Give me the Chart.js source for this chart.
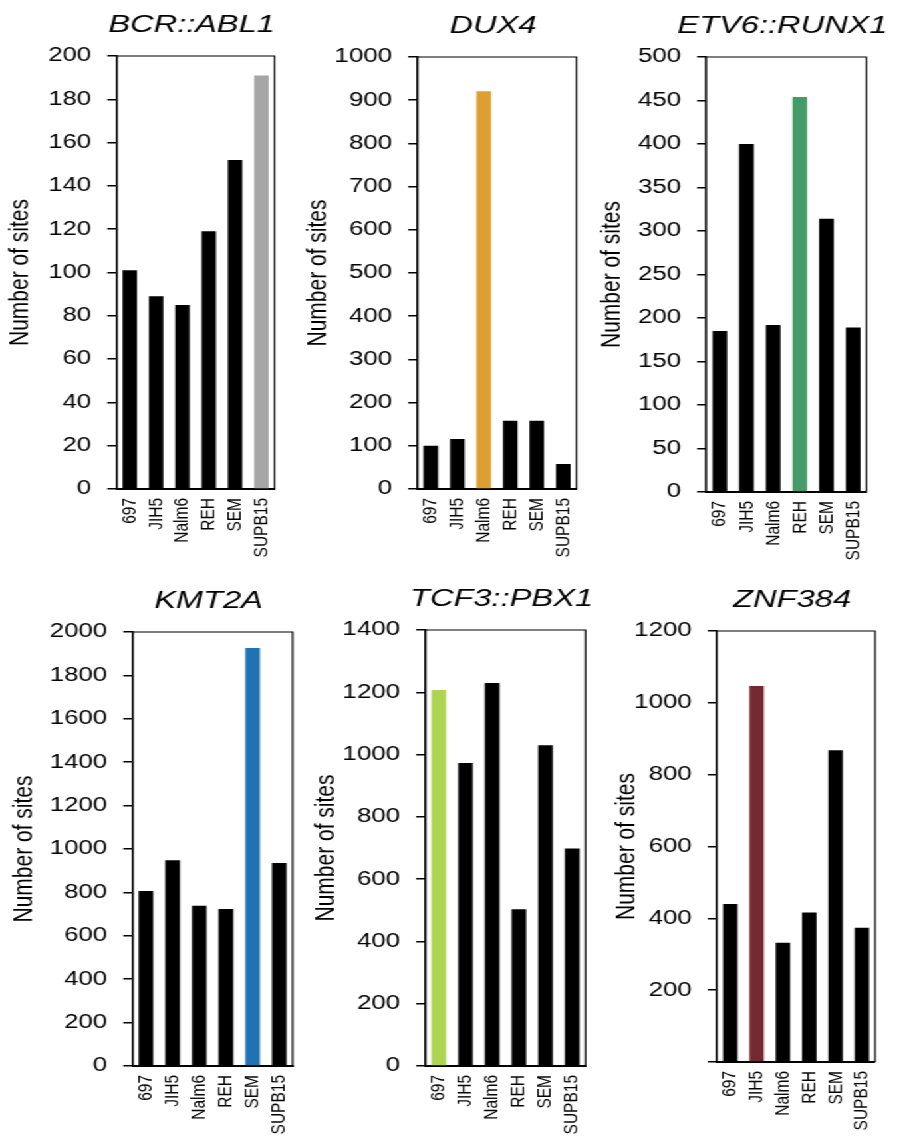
<!DOCTYPE html>
<html>
<head>
<meta charset="utf-8">
<script src="https://cdn.jsdelivr.net/npm/chart.js@4.4.0/dist/chart.umd.min.js"></script>
<style>
  html, body { margin: 0; padding: 0; background: #fff; overflow: hidden; }
  /* the original figure is stretched sideways, so the whole stage is too */
  #stage { position: relative; height: 1136px; transform-origin: 0 0; }
  #stage canvas { position: absolute; }
</style>
</head>
<body>
<div id="stage"></div>
<script>
const cellLines = ['697', 'JIH5', 'Nalm6', 'REH', 'SEM', 'SUPB15'];
const panelTitles = ['BCR::ABL1', 'DUX4', 'ETV6::RUNX1', 'KMT2A', 'TCF3::PBX1', 'ZNF384'];

const bcrAbl1 = [101, 89, 85, 119, 152, 191];
const dux4 = [100, 116, 921, 158, 158, 58];
const etv6Runx1 = [185, 400, 192, 454, 314, 189];
const kmt2a = [806, 948, 738, 723, 1926, 935];
const tcf3Pbx1 = [1207, 973, 1230, 503, 1030, 698];
const znf384 = [440, 1047, 332, 416, 868, 374];
const panelValues = [bcrAbl1, dux4, etv6Runx1, kmt2a, tcf3Pbx1, znf384];

const highlightIndex = [5, 2, 3, 4, 0, 1];
const highlightColors = ['#a6a6a6', '#dd9f34', '#449b69', '#1f72b3', '#afd453', '#732b31'];

const yMax = [200, 1000, 500, 2000, 1400, 1200];
const yStep = [20, 100, 50, 200, 200, 200];
const showZeroLabel = [true, true, true, true, true, false];

// layout, in pixels of the final picture
const S = 1.33;
const frames = [
  { titleX: 21, left: 117, right: 275, top: 56, bottom: 489 },
  { titleX: 318, left: 417, right: 576, top: 57, bottom: 489 },
  { titleX: 612, left: 706, right: 866, top: 57, bottom: 492 },
  { titleX: 25, left: 133, right: 293, top: 632, bottom: 1066 },
  { titleX: 327, left: 426, right: 586, top: 630, bottom: 1066 },
  { titleX: 627, left: 717, right: 875, top: 631, bottom: 1062 }
];

Chart.defaults.font.family = '"Liberation Sans", Arial, Helvetica, sans-serif';
Chart.defaults.color = '#000';

const stage = document.getElementById('stage');
stage.style.width = (901 / S) + 'px';
stage.style.transform = 'scaleX(' + S + ')';

const boxPlugin = {
  id: 'box',
  afterDraw(chart) {
    const { ctx, chartArea: { left, top, right, bottom } } = chart;
    ctx.save();
    ctx.strokeStyle = '#000';
    ctx.lineWidth = 1.2;
    ctx.beginPath();
    ctx.moveTo(left, top);
    ctx.lineTo(right, top);
    ctx.lineTo(right, bottom);
    ctx.stroke();
    ctx.restore();
  }
};

const panelTitlePlugin = {
  id: 'panelTitle',
  afterDraw(chart, args, opts) {
    const { ctx, chartArea: { left, top, right } } = chart;
    ctx.save();
    ctx.font = 'italic 24.5px "Liberation Sans", Arial, sans-serif';
    ctx.fillStyle = '#000';
    ctx.textAlign = 'center';
    ctx.textBaseline = 'alphabetic';
    ctx.fillText(opts.text, (left + right) / 2 - 3, top - 24);
    ctx.restore();
  }
};

const padTop = 50;
const xHeight = 76;
const spareRight = 40; // room for the wide titles

frames.forEach((f, i) => {
  const canvasLeft = f.titleX / S - 12.5;
  const yWidth = f.left / S - canvasLeft;
  const plotW = (f.right - f.left) / S;
  const plotH = f.bottom - f.top;
  const width = Math.ceil(yWidth + plotW + spareRight);
  const height = padTop + plotH + xHeight;

  const canvas = document.createElement('canvas');
  canvas.width = width;
  canvas.height = height;
  canvas.style.left = canvasLeft + 'px';
  canvas.style.top = (f.top - padTop) + 'px';
  stage.appendChild(canvas);

  new Chart(canvas.getContext('2d'), {
    type: 'bar',
    data: {
      labels: cellLines,
      datasets: [{
        data: panelValues[i],
        backgroundColor: cellLines.map((c, j) => j === highlightIndex[i] ? highlightColors[i] : '#000'),
        barPercentage: 0.55,
        categoryPercentage: 1
      }]
    },
    options: {
      responsive: false,
      animation: false,
      devicePixelRatio: 1,
      layout: { padding: { top: padTop, right: width - yWidth - plotW, bottom: 0, left: 0 } },
      plugins: {
        legend: { display: false },
        tooltip: { enabled: false },
        panelTitle: { text: panelTitles[i] }
      },
      scales: {
        x: {
          ticks: { color: '#000', font: { size: 15.5 }, minRotation: 90, maxRotation: 90, autoSkip: false, padding: 9 },
          grid: { display: true, drawOnChartArea: false, drawTicks: false },
          border: { display: true, color: '#000', width: 2 },
          afterFit: s => { s.height = xHeight; }
        },
        y: {
          min: 0,
          max: yMax[i],
          ticks: {
            stepSize: yStep[i],
            color: '#000',
            font: { size: 19.5 },
            padding: 12,
            callback: v => (v === 0 && !showZeroLabel[i]) ? '' : String(v)
          },
          grid: { drawOnChartArea: false, drawTicks: true, tickLength: 7, color: '#000', lineWidth: 1.5 },
          border: { display: true, color: '#000', width: 1.6 },
          title: { display: true, text: 'Number of sites', color: '#000', font: { size: 21 }, padding: 0 },
          afterFit: s => { s.width = yWidth; }
        }
      }
    },
    plugins: [boxPlugin, panelTitlePlugin]
  });
});
</script>
</body>
</html>
